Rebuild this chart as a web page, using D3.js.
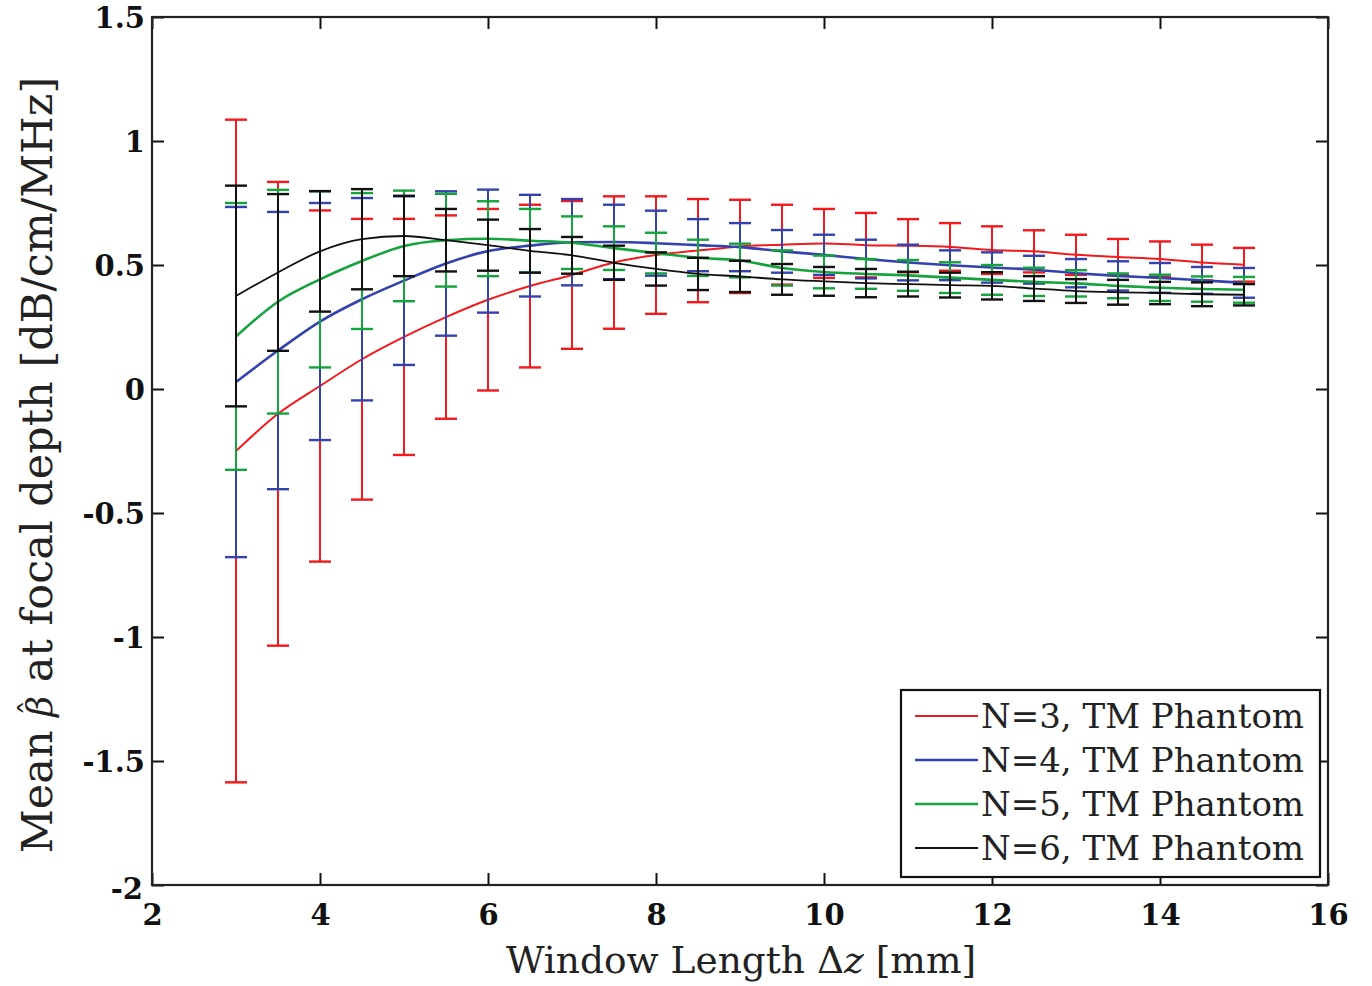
<!DOCTYPE html>
<html>
<head>
<meta charset="utf-8">
<script src="https://cdn.jsdelivr.net/npm/d3@7"></script>
<style>
  html, body { margin: 0; padding: 0; background: #fff; }
  svg { display: block; }
</style>
</head>
<body>
<svg id="chart" width="1372" height="986"></svg>
<script>
// Window lengths (mm) at which the estimates were computed
const windowLength = [3, 3.5, 4, 4.5, 5, 5.5, 6, 6.5, 7, 7.5, 8, 8.5, 9, 9.5, 10, 10.5, 11, 11.5, 12, 12.5, 13, 13.5, 14, 14.5, 15];

// Mean beta estimate (dB/cm/MHz) for each N
const meanN3 = [-0.25, -0.10, 0.012, 0.12, 0.21, 0.29, 0.36, 0.415, 0.46, 0.51, 0.54, 0.558, 0.575, 0.582, 0.587, 0.58, 0.578, 0.573, 0.56, 0.555, 0.541, 0.532, 0.524, 0.51, 0.501];
const meanN4 = [0.028, 0.155, 0.272, 0.362, 0.437, 0.506, 0.556, 0.578, 0.592, 0.593, 0.588, 0.58, 0.572, 0.555, 0.541, 0.524, 0.51, 0.499, 0.49, 0.481, 0.467, 0.456, 0.448, 0.438, 0.428];
const meanN5 = [0.212, 0.352, 0.442, 0.516, 0.577, 0.600, 0.606, 0.598, 0.590, 0.568, 0.548, 0.529, 0.518, 0.488, 0.472, 0.464, 0.458, 0.449, 0.440, 0.432, 0.426, 0.416, 0.408, 0.403, 0.400];
const meanN6 = [0.375, 0.47, 0.555, 0.604, 0.617, 0.60, 0.58, 0.557, 0.539, 0.509, 0.484, 0.464, 0.454, 0.442, 0.434, 0.427, 0.423, 0.419, 0.416, 0.405, 0.395, 0.39, 0.387, 0.382, 0.38];

// Standard deviation (error bar half-length) for each N
const sdN3 = [1.336, 0.935, 0.708, 0.566, 0.476, 0.41, 0.366, 0.328, 0.298, 0.267, 0.237, 0.208, 0.188, 0.161, 0.139, 0.13, 0.107, 0.096, 0.096, 0.085, 0.081, 0.073, 0.071, 0.072, 0.068];
const sdN4 = [0.706, 0.559, 0.478, 0.408, 0.34, 0.291, 0.248, 0.205, 0.174, 0.15, 0.131, 0.105, 0.097, 0.086, 0.081, 0.078, 0.072, 0.06, 0.061, 0.056, 0.057, 0.059, 0.06, 0.054, 0.06];
const sdN5 = [0.538, 0.451, 0.355, 0.274, 0.223, 0.187, 0.151, 0.128, 0.106, 0.088, 0.082, 0.073, 0.068, 0.071, 0.066, 0.06, 0.062, 0.062, 0.06, 0.057, 0.053, 0.05, 0.053, 0.051, 0.052];
const sdN6 = [0.445, 0.316, 0.243, 0.202, 0.162, 0.126, 0.103, 0.088, 0.074, 0.069, 0.067, 0.065, 0.063, 0.062, 0.058, 0.057, 0.05, 0.05, 0.055, 0.05, 0.048, 0.05, 0.045, 0.048, 0.043];

const seriesLabels = ["N=3, TM Phantom", "N=4, TM Phantom", "N=5, TM Phantom", "N=6, TM Phantom"];
const seriesColors = ["#f4191c", "#3342ad", "#14a33c", "#111111"];

const xTicks = [2, 4, 6, 8, 10, 12, 14, 16];
const yTicks = [-2, -1.5, -1, -0.5, 0, 0.5, 1, 1.5];

const series = [
  { label: seriesLabels[0], color: seriesColors[0], mean: meanN3, sd: sdN3, width: 2 },
  { label: seriesLabels[1], color: seriesColors[1], mean: meanN4, sd: sdN4, width: 2.6 },
  { label: seriesLabels[2], color: seriesColors[2], mean: meanN5, sd: sdN5, width: 2.6 },
  { label: seriesLabels[3], color: seriesColors[3], mean: meanN6, sd: sdN6, width: 1.8 }
];

const svg = d3.select("#chart");
const plotLeft = 152, plotRight = 1328, plotTop = 17, plotBottom = 885;

const x = d3.scaleLinear().domain([2, 16]).range([plotLeft, plotRight]);
const y = d3.scaleLinear().domain([-2, 1.5]).range([plotBottom, plotTop]);

const serif = "'DejaVu Serif', 'Liberation Serif', serif";

// Data: mean lines and error bars
const plot = svg.append("g");
const line = d3.line().x(d => x(d[0])).y(d => y(d[1])).curve(d3.curveMonotoneX);
const capHalf = 11;

series.forEach(s => {
  const pts = windowLength.map((w, i) => [w, s.mean[i], s.sd[i]]);
  const g = plot.append("g");
  g.append("path")
    .attr("d", line(pts))
    .attr("fill", "none")
    .attr("stroke", s.color)
    .attr("stroke-width", s.width);
  const bars = g.selectAll("g.bar").data(pts).join("g").attr("class", "bar")
    .attr("stroke", s.color).attr("stroke-width", 2.4);
  bars.append("line")
    .attr("x1", d => x(d[0])).attr("x2", d => x(d[0]))
    .attr("y1", d => y(d[1] - d[2])).attr("y2", d => y(d[1] + d[2]))
    .attr("stroke-width", 2);
  bars.append("line")
    .attr("x1", d => x(d[0]) - capHalf).attr("x2", d => x(d[0]) + capHalf)
    .attr("y1", d => y(d[1] + d[2])).attr("y2", d => y(d[1] + d[2]));
  bars.append("line")
    .attr("x1", d => x(d[0]) - capHalf).attr("x2", d => x(d[0]) + capHalf)
    .attr("y1", d => y(d[1] - d[2])).attr("y2", d => y(d[1] - d[2]));
});

// Axes: ticks pointing inward on all four sides
const tickLen = 12;
const fmt = d => String(d);

const xBottom = svg.append("g").attr("transform", `translate(0,${plotBottom})`)
  .call(d3.axisBottom(x).tickValues(xTicks).tickSizeInner(-tickLen).tickSizeOuter(0).tickPadding(19).tickFormat(fmt));
const xTop = svg.append("g").attr("transform", `translate(0,${plotTop})`)
  .call(d3.axisTop(x).tickValues(xTicks).tickSizeInner(-tickLen).tickSizeOuter(0).tickFormat(""));
const yLeft = svg.append("g").attr("transform", `translate(${plotLeft},0)`)
  .call(d3.axisLeft(y).tickValues(yTicks).tickSizeInner(-tickLen).tickSizeOuter(0).tickPadding(7).tickFormat(fmt));
const yRight = svg.append("g").attr("transform", `translate(${plotRight},0)`)
  .call(d3.axisRight(y).tickValues(yTicks).tickSizeInner(-tickLen).tickSizeOuter(0).tickFormat(""));

[xBottom, xTop, yLeft, yRight].forEach(a => {
  a.select(".domain").remove();
  a.selectAll(".tick line").attr("stroke", "#111").attr("stroke-width", 2);
  a.selectAll("text").attr("font-family", serif).attr("font-weight", "bold")
    .attr("font-size", 29).attr("fill", "#111");
});
xBottom.selectAll("text").attr("dy", "0.71em");
yLeft.selectAll("text").attr("dy", "0.36em");
// the lowest y label sits just above the bottom-left corner
yLeft.selectAll(".tick").filter(d => d === -2).select("text").attr("dy", "0.45em").attr("x", -9);

// Frame
svg.append("rect")
  .attr("x", plotLeft).attr("y", plotTop)
  .attr("width", plotRight - plotLeft).attr("height", plotBottom - plotTop)
  .attr("fill", "none").attr("stroke", "#222").attr("stroke-width", 2.2);

// Axis titles
const xTitle = svg.append("text")
  .attr("x", 741).attr("y", 973)
  .attr("text-anchor", "middle")
  .attr("font-family", serif).attr("font-size", 37.5).attr("fill", "#222");
xTitle.append("tspan").text("Window Length \u0394");
xTitle.append("tspan").attr("font-style", "italic").text("z");
xTitle.append("tspan").text(" [mm]");

// y title: italic beta with a hat accent raised above it
const yTitle = svg.append("text")
  .attr("transform", `translate(52,${465}) rotate(-90)`)
  .attr("text-anchor", "middle")
  .attr("font-family", serif).attr("font-size", 43).attr("fill", "#222");
yTitle.append("tspan").text("Mean ");
yTitle.append("tspan").attr("font-style", "italic").attr("font-size", 36).text("\u03B2");
yTitle.append("tspan").attr("dx", -20).attr("dy", -9).attr("font-size", 32).text("\u02C6");
yTitle.append("tspan").attr("dx", 4).attr("dy", 9).text(" at focal depth [dB/cm/MHz]");

// Legend
const lgX = 901, lgY = 690, lgW = 419, lgH = 187;
const legend = svg.append("g");
legend.append("rect")
  .attr("x", lgX).attr("y", lgY).attr("width", lgW).attr("height", lgH)
  .attr("fill", "#fff").attr("stroke", "#111").attr("stroke-width", 2.2);
series.forEach((s, i) => {
  const yy = lgY + 26 + i * 44;
  legend.append("line")
    .attr("x1", lgX + 14).attr("x2", lgX + 77)
    .attr("y1", yy).attr("y2", yy)
    .attr("stroke", s.color).attr("stroke-width", s.width);
  legend.append("text")
    .attr("x", lgX + 80).attr("y", yy).attr("dy", "0.36em")
    .attr("font-family", serif).attr("font-size", 34).attr("fill", "#222")
    .text(s.label);
});
</script>
</body>
</html>
